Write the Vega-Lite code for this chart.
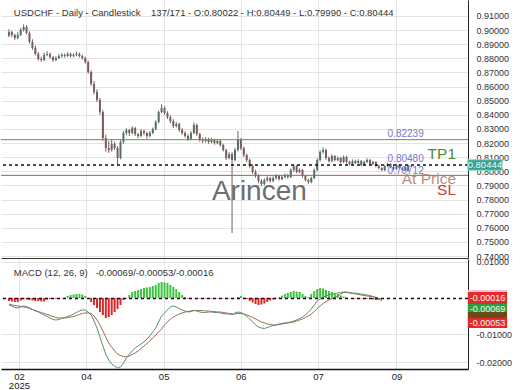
{
  "$schema": "https://vega.github.io/schema/vega-lite/v6.json",
  "padding": 0,
  "background": "white",
  "config": {
    "font": "Liberation Sans",
    "view": {"stroke": null},
    "axis": {"gridColor": "#e4e4e4", "gridWidth": 1, "labelFont": "Liberation Sans", "labelColor": "#333", "labelFontSize": 9, "ticks": false, "title": null, "labelOverlap": false, "labelFlush": false, "labelBound": false}
  },
  "datasets": {
    "px": [
      {"i":1,"o":0.8960,"h":0.9005,"l":0.8950,"c":0.8986},
      {"i":2,"o":0.8986,"h":0.8995,"l":0.8950,"c":0.8965},
      {"i":3,"o":0.8965,"h":0.8975,"l":0.8930,"c":0.8944},
      {"i":4,"o":0.8944,"h":0.8985,"l":0.8935,"c":0.8965},
      {"i":5,"o":0.8965,"h":0.9015,"l":0.8958,"c":0.9001},
      {"i":6,"o":0.9001,"h":0.9040,"l":0.8990,"c":0.9022},
      {"i":7,"o":0.9022,"h":0.9035,"l":0.8970,"c":0.8979},
      {"i":8,"o":0.8979,"h":0.8990,"l":0.8905,"c":0.8916},
      {"i":9,"o":0.8916,"h":0.8935,"l":0.8860,"c":0.8873},
      {"i":10,"o":0.8873,"h":0.8890,"l":0.8820,"c":0.8831},
      {"i":11,"o":0.8831,"h":0.8845,"l":0.8785,"c":0.8795},
      {"i":12,"o":0.8795,"h":0.8812,"l":0.8775,"c":0.8788},
      {"i":13,"o":0.8788,"h":0.8840,"l":0.8780,"c":0.8824},
      {"i":14,"o":0.8824,"h":0.8850,"l":0.8815,"c":0.8831},
      {"i":15,"o":0.8831,"h":0.8840,"l":0.8795,"c":0.8809},
      {"i":16,"o":0.8809,"h":0.8818,"l":0.8775,"c":0.8788},
      {"i":17,"o":0.8788,"h":0.8815,"l":0.8780,"c":0.8802},
      {"i":18,"o":0.8802,"h":0.8830,"l":0.8795,"c":0.8816},
      {"i":19,"o":0.8816,"h":0.8838,"l":0.8805,"c":0.8824},
      {"i":20,"o":0.8824,"h":0.8835,"l":0.8805,"c":0.8816},
      {"i":21,"o":0.8816,"h":0.8845,"l":0.8810,"c":0.8831},
      {"i":22,"o":0.8831,"h":0.8840,"l":0.8805,"c":0.8816},
      {"i":23,"o":0.8816,"h":0.8836,"l":0.8808,"c":0.8824},
      {"i":24,"o":0.8824,"h":0.8846,"l":0.8815,"c":0.8831},
      {"i":25,"o":0.8831,"h":0.8840,"l":0.8806,"c":0.8816},
      {"i":26,"o":0.8816,"h":0.8825,"l":0.8790,"c":0.8802},
      {"i":27,"o":0.8802,"h":0.8812,"l":0.8762,"c":0.8774},
      {"i":28,"o":0.8774,"h":0.8785,"l":0.8690,"c":0.8703},
      {"i":29,"o":0.8703,"h":0.8715,"l":0.8605,"c":0.8618},
      {"i":30,"o":0.8618,"h":0.8640,"l":0.8545,"c":0.8561},
      {"i":31,"o":0.8561,"h":0.8580,"l":0.8490,"c":0.8505},
      {"i":32,"o":0.8505,"h":0.8520,"l":0.8400,"c":0.8420},
      {"i":33,"o":0.8420,"h":0.8435,"l":0.8215,"c":0.8236},
      {"i":34,"o":0.8236,"h":0.8260,"l":0.8140,"c":0.8165},
      {"i":35,"o":0.8165,"h":0.8215,"l":0.8130,"c":0.8151},
      {"i":36,"o":0.8151,"h":0.8225,"l":0.8140,"c":0.8193},
      {"i":37,"o":0.8193,"h":0.8210,"l":0.8150,"c":0.8165},
      {"i":38,"o":0.8165,"h":0.8178,"l":0.8045,"c":0.8094},
      {"i":39,"o":0.8094,"h":0.8220,"l":0.8085,"c":0.8207},
      {"i":40,"o":0.8207,"h":0.8285,"l":0.8195,"c":0.8271},
      {"i":41,"o":0.8271,"h":0.8305,"l":0.8255,"c":0.8292},
      {"i":42,"o":0.8292,"h":0.8300,"l":0.8250,"c":0.8271},
      {"i":43,"o":0.8271,"h":0.8320,"l":0.8262,"c":0.8307},
      {"i":44,"o":0.8307,"h":0.8315,"l":0.8250,"c":0.8264},
      {"i":45,"o":0.8264,"h":0.8272,"l":0.8235,"c":0.8250},
      {"i":46,"o":0.8250,"h":0.8300,"l":0.8242,"c":0.8285},
      {"i":47,"o":0.8285,"h":0.8295,"l":0.8255,"c":0.8271},
      {"i":48,"o":0.8271,"h":0.8280,"l":0.8232,"c":0.8250},
      {"i":49,"o":0.8250,"h":0.8285,"l":0.8240,"c":0.8271},
      {"i":50,"o":0.8271,"h":0.8310,"l":0.8262,"c":0.8299},
      {"i":51,"o":0.8299,"h":0.8360,"l":0.8290,"c":0.8349},
      {"i":52,"o":0.8349,"h":0.8430,"l":0.8340,"c":0.8420},
      {"i":53,"o":0.8420,"h":0.8475,"l":0.8410,"c":0.8448},
      {"i":54,"o":0.8448,"h":0.8460,"l":0.8400,"c":0.8413},
      {"i":55,"o":0.8413,"h":0.8425,"l":0.8370,"c":0.8384},
      {"i":56,"o":0.8384,"h":0.8395,"l":0.8340,"c":0.8356},
      {"i":57,"o":0.8356,"h":0.8368,"l":0.8305,"c":0.8321},
      {"i":58,"o":0.8321,"h":0.8350,"l":0.8310,"c":0.8335},
      {"i":59,"o":0.8335,"h":0.8345,"l":0.8280,"c":0.8292},
      {"i":60,"o":0.8292,"h":0.8305,"l":0.8258,"c":0.8271},
      {"i":61,"o":0.8271,"h":0.8282,"l":0.8238,"c":0.8250},
      {"i":62,"o":0.8250,"h":0.8262,"l":0.8215,"c":0.8229},
      {"i":63,"o":0.8229,"h":0.8285,"l":0.8220,"c":0.8271},
      {"i":64,"o":0.8271,"h":0.8345,"l":0.8262,"c":0.8328},
      {"i":65,"o":0.8328,"h":0.8338,"l":0.8250,"c":0.8264},
      {"i":66,"o":0.8264,"h":0.8272,"l":0.8210,"c":0.8222},
      {"i":67,"o":0.8222,"h":0.8240,"l":0.8200,"c":0.8214},
      {"i":68,"o":0.8214,"h":0.8242,"l":0.8205,"c":0.8229},
      {"i":69,"o":0.8229,"h":0.8238,"l":0.8195,"c":0.8207},
      {"i":70,"o":0.8207,"h":0.8235,"l":0.8198,"c":0.8222},
      {"i":71,"o":0.8222,"h":0.8230,"l":0.8188,"c":0.8200},
      {"i":72,"o":0.8200,"h":0.8228,"l":0.8192,"c":0.8214},
      {"i":73,"o":0.8214,"h":0.8222,"l":0.8175,"c":0.8186},
      {"i":74,"o":0.8186,"h":0.8195,"l":0.8140,"c":0.8151},
      {"i":75,"o":0.8151,"h":0.8160,"l":0.8080,"c":0.8094},
      {"i":76,"o":0.8094,"h":0.8135,"l":0.8085,"c":0.8122},
      {"i":77,"o":0.8122,"h":0.8135,"l":0.7563,"c":0.8080},
      {"i":78,"o":0.8080,"h":0.8165,"l":0.8070,"c":0.8151},
      {"i":79,"o":0.8151,"h":0.8285,"l":0.8140,"c":0.8222},
      {"i":80,"o":0.8222,"h":0.8235,"l":0.8150,"c":0.8165},
      {"i":81,"o":0.8165,"h":0.8175,"l":0.8100,"c":0.8115},
      {"i":82,"o":0.8115,"h":0.8125,"l":0.8065,"c":0.8080},
      {"i":83,"o":0.8080,"h":0.8090,"l":0.8025,"c":0.8037},
      {"i":84,"o":0.8037,"h":0.8050,"l":0.7980,"c":0.7995},
      {"i":85,"o":0.7995,"h":0.8010,"l":0.7955,"c":0.7967},
      {"i":86,"o":0.7967,"h":0.7980,"l":0.7915,"c":0.7931},
      {"i":87,"o":0.7931,"h":0.7945,"l":0.7895,"c":0.7910},
      {"i":88,"o":0.7910,"h":0.7950,"l":0.7900,"c":0.7938},
      {"i":89,"o":0.7938,"h":0.7965,"l":0.7925,"c":0.7952},
      {"i":90,"o":0.7952,"h":0.7960,"l":0.7920,"c":0.7931},
      {"i":91,"o":0.7931,"h":0.7965,"l":0.7922,"c":0.7952},
      {"i":92,"o":0.7952,"h":0.7980,"l":0.7942,"c":0.7967},
      {"i":93,"o":0.7967,"h":0.7975,"l":0.7935,"c":0.7945},
      {"i":94,"o":0.7945,"h":0.7972,"l":0.7936,"c":0.7960},
      {"i":95,"o":0.7960,"h":0.7985,"l":0.7950,"c":0.7974},
      {"i":96,"o":0.7974,"h":0.7982,"l":0.7948,"c":0.7960},
      {"i":97,"o":0.7960,"h":0.8020,"l":0.7952,"c":0.8009},
      {"i":98,"o":0.8009,"h":0.8048,"l":0.7998,"c":0.8037},
      {"i":99,"o":0.8037,"h":0.8045,"l":0.7985,"c":0.7995},
      {"i":100,"o":0.7995,"h":0.8020,"l":0.7986,"c":0.8009},
      {"i":101,"o":0.8009,"h":0.8016,"l":0.7955,"c":0.7967},
      {"i":102,"o":0.7967,"h":0.7975,"l":0.7928,"c":0.7938},
      {"i":103,"o":0.7938,"h":0.7948,"l":0.7912,"c":0.7924},
      {"i":104,"o":0.7924,"h":0.7962,"l":0.7915,"c":0.7952},
      {"i":105,"o":0.7952,"h":0.8020,"l":0.7945,"c":0.8009},
      {"i":106,"o":0.8009,"h":0.8092,"l":0.8000,"c":0.8080},
      {"i":107,"o":0.8080,"h":0.8150,"l":0.8070,"c":0.8137},
      {"i":108,"o":0.8137,"h":0.8170,"l":0.8125,"c":0.8151},
      {"i":109,"o":0.8151,"h":0.8160,"l":0.8082,"c":0.8094},
      {"i":110,"o":0.8094,"h":0.8105,"l":0.8062,"c":0.8073},
      {"i":111,"o":0.8073,"h":0.8120,"l":0.8065,"c":0.8108},
      {"i":112,"o":0.8108,"h":0.8115,"l":0.8070,"c":0.8080},
      {"i":113,"o":0.8080,"h":0.8105,"l":0.8072,"c":0.8094},
      {"i":114,"o":0.8094,"h":0.8102,"l":0.8055,"c":0.8066},
      {"i":115,"o":0.8066,"h":0.8112,"l":0.8058,"c":0.8101},
      {"i":116,"o":0.8101,"h":0.8110,"l":0.8055,"c":0.8066},
      {"i":117,"o":0.8066,"h":0.8075,"l":0.8042,"c":0.8052},
      {"i":118,"o":0.8052,"h":0.8085,"l":0.8045,"c":0.8073},
      {"i":119,"o":0.8073,"h":0.8082,"l":0.8050,"c":0.8059},
      {"i":120,"o":0.8059,"h":0.8085,"l":0.8052,"c":0.8073},
      {"i":121,"o":0.8073,"h":0.8080,"l":0.8035,"c":0.8044},
      {"i":122,"o":0.8044,"h":0.8075,"l":0.8038,"c":0.8066},
      {"i":123,"o":0.8066,"h":0.8092,"l":0.8058,"c":0.8080},
      {"i":124,"o":0.8080,"h":0.8088,"l":0.8045,"c":0.8052},
      {"i":125,"o":0.8052,"h":0.8075,"l":0.8045,"c":0.8066},
      {"i":126,"o":0.8066,"h":0.8072,"l":0.8028,"c":0.8037},
      {"i":127,"o":0.8037,"h":0.8045,"l":0.8015,"c":0.8023},
      {"i":128,"o":0.8023,"h":0.8030,"l":0.8000,"c":0.8009},
      {"i":129,"o":0.8009,"h":0.8045,"l":0.8002,"c":0.8037},
      {"i":130,"o":0.8037,"h":0.8060,"l":0.8030,"c":0.8052},
      {"i":131,"o":0.8052,"h":0.8058,"l":0.8022,"c":0.8030},
      {"i":132,"o":0.8030,"h":0.8036,"l":0.8005,"c":0.8016},
      {"i":133,"o":0.8016,"h":0.8052,"l":0.8010,"c":0.8044},
      {"i":134,"o":0.8044,"h":0.8050,"l":0.8015,"c":0.8023},
      {"i":135,"o":0.8023,"h":0.8030,"l":0.7998,"c":0.8009},
      {"i":136,"o":0.8009,"h":0.8038,"l":0.8002,"c":0.8030},
      {"i":137,"o":0.80022,"h":0.80449,"l":0.79990,"c":0.80444}
    ],
    "md": [
      {"i":1,"m":-0.00194,"s":-0.00167,"h":-0.00083},
      {"i":2,"m":-0.00222,"s":-0.00194,"h":-0.00097},
      {"i":3,"m":-0.00264,"s":-0.00208,"h":-0.00111},
      {"i":4,"m":-0.00278,"s":-0.00222,"h":-0.00111},
      {"i":5,"m":-0.00250,"s":-0.00236,"h":-0.00069},
      {"i":6,"m":-0.00222,"s":-0.00250,"h":-0.00028},
      {"i":7,"m":-0.00236,"s":-0.00264,"h":-0.00042},
      {"i":8,"m":-0.00278,"s":-0.00292,"h":-0.00056},
      {"i":9,"m":-0.00319,"s":-0.00319,"h":-0.00069},
      {"i":10,"m":-0.00361,"s":-0.00347,"h":-0.00083},
      {"i":11,"m":-0.00389,"s":-0.00375,"h":-0.00083},
      {"i":12,"m":-0.00431,"s":-0.00403,"h":-0.00097},
      {"i":13,"m":-0.00472,"s":-0.00431,"h":-0.00097},
      {"i":14,"m":-0.00514,"s":-0.00458,"h":-0.00042},
      {"i":15,"m":-0.00556,"s":-0.00486,"h":-0.00028},
      {"i":16,"m":-0.00597,"s":-0.00514,"h":-0.00028},
      {"i":17,"m":-0.00611,"s":-0.00542,"h":-0.00022},
      {"i":18,"m":-0.00597,"s":-0.00556,"h":-0.00014},
      {"i":19,"m":-0.00569,"s":-0.00556,"h":-0.00008},
      {"i":20,"m":-0.00542,"s":-0.00556,"h":0.00014},
      {"i":21,"m":-0.00514,"s":-0.00542,"h":0.00056},
      {"i":22,"m":-0.00486,"s":-0.00528,"h":0.00083},
      {"i":23,"m":-0.00444,"s":-0.00514,"h":0.00097},
      {"i":24,"m":-0.00403,"s":-0.00486,"h":0.00111},
      {"i":25,"m":-0.00361,"s":-0.00458,"h":0.00111},
      {"i":26,"m":-0.00333,"s":-0.00431,"h":0.00097},
      {"i":27,"m":-0.00333,"s":-0.00417,"h":0.00056},
      {"i":28,"m":-0.00389,"s":-0.00417,"h":-0.00028},
      {"i":29,"m":-0.00472,"s":-0.00431,"h":-0.00111},
      {"i":30,"m":-0.00639,"s":-0.00500,"h":-0.00194},
      {"i":31,"m":-0.00833,"s":-0.00611,"h":-0.00278},
      {"i":32,"m":-0.01083,"s":-0.00750,"h":-0.00389},
      {"i":33,"m":-0.01333,"s":-0.00917,"h":-0.00472},
      {"i":34,"m":-0.01556,"s":-0.01083,"h":-0.00556},
      {"i":35,"m":-0.01722,"s":-0.01250,"h":-0.00528},
      {"i":36,"m":-0.01833,"s":-0.01361,"h":-0.00472},
      {"i":37,"m":-0.01889,"s":-0.01472,"h":-0.00389},
      {"i":38,"m":-0.01944,"s":-0.01556,"h":-0.00306},
      {"i":39,"m":-0.01917,"s":-0.01597,"h":-0.00194},
      {"i":40,"m":-0.01806,"s":-0.01625,"h":-0.00056},
      {"i":41,"m":-0.01667,"s":-0.01639,"h":-0.00014},
      {"i":42,"m":-0.01556,"s":-0.01611,"h":0.00083},
      {"i":43,"m":-0.01472,"s":-0.01569,"h":0.00167},
      {"i":44,"m":-0.01389,"s":-0.01528,"h":0.00194},
      {"i":45,"m":-0.01333,"s":-0.01472,"h":0.00222},
      {"i":46,"m":-0.01278,"s":-0.01403,"h":0.00250},
      {"i":47,"m":-0.01222,"s":-0.01333,"h":0.00278},
      {"i":48,"m":-0.01139,"s":-0.01264,"h":0.00292},
      {"i":49,"m":-0.01056,"s":-0.01194,"h":0.00306},
      {"i":50,"m":-0.00944,"s":-0.01111,"h":0.00333},
      {"i":51,"m":-0.00833,"s":-0.01028,"h":0.00361},
      {"i":52,"m":-0.00667,"s":-0.00944,"h":0.00417},
      {"i":53,"m":-0.00500,"s":-0.00861,"h":0.00444},
      {"i":54,"m":-0.00417,"s":-0.00750,"h":0.00431},
      {"i":55,"m":-0.00333,"s":-0.00667,"h":0.00417},
      {"i":56,"m":-0.00250,"s":-0.00583,"h":0.00361},
      {"i":57,"m":-0.00222,"s":-0.00528,"h":0.00306},
      {"i":58,"m":-0.00250,"s":-0.00486,"h":0.00250},
      {"i":59,"m":-0.00292,"s":-0.00444,"h":0.00167},
      {"i":60,"m":-0.00333,"s":-0.00417,"h":0.00083},
      {"i":61,"m":-0.00361,"s":-0.00389,"h":0.00028},
      {"i":62,"m":-0.00389,"s":-0.00375,"h":-0.00014},
      {"i":63,"m":-0.00375,"s":-0.00361,"h":-0.00008},
      {"i":64,"m":-0.00347,"s":-0.00347,"h":-0.00006},
      {"i":65,"m":-0.00361,"s":-0.00347,"h":-0.00011},
      {"i":66,"m":-0.00389,"s":-0.00347,"h":-0.00017},
      {"i":67,"m":-0.00403,"s":-0.00347,"h":-0.00008},
      {"i":68,"m":-0.00403,"s":-0.00361,"h":-0.00014},
      {"i":69,"m":-0.00389,"s":-0.00361,"h":-0.00011},
      {"i":70,"m":-0.00389,"s":-0.00375,"h":-0.00017},
      {"i":71,"m":-0.00403,"s":-0.00375,"h":-0.00008},
      {"i":72,"m":-0.00403,"s":-0.00389,"h":-0.00014},
      {"i":73,"m":-0.00417,"s":-0.00389,"h":-0.00011},
      {"i":74,"m":-0.00431,"s":-0.00403,"h":-0.00014},
      {"i":75,"m":-0.00444,"s":-0.00417,"h":-0.00011},
      {"i":76,"m":-0.00444,"s":-0.00431,"h":-0.00014},
      {"i":77,"m":-0.00458,"s":-0.00444,"h":-0.00017},
      {"i":78,"m":-0.00417,"s":-0.00444,"h":-0.00008},
      {"i":79,"m":-0.00389,"s":-0.00431,"h":0.00028},
      {"i":80,"m":-0.00403,"s":-0.00431,"h":0.00056},
      {"i":81,"m":-0.00444,"s":-0.00444,"h":0.00014},
      {"i":82,"m":-0.00514,"s":-0.00472,"h":-0.00028},
      {"i":83,"m":-0.00583,"s":-0.00500,"h":-0.00083},
      {"i":84,"m":-0.00667,"s":-0.00542,"h":-0.00125},
      {"i":85,"m":-0.00750,"s":-0.00583,"h":-0.00167},
      {"i":86,"m":-0.00806,"s":-0.00625,"h":-0.00194},
      {"i":87,"m":-0.00833,"s":-0.00667,"h":-0.00181},
      {"i":88,"m":-0.00847,"s":-0.00694,"h":-0.00153},
      {"i":89,"m":-0.00819,"s":-0.00722,"h":-0.00111},
      {"i":90,"m":-0.00792,"s":-0.00736,"h":-0.00069},
      {"i":91,"m":-0.00764,"s":-0.00750,"h":-0.00042},
      {"i":92,"m":-0.00750,"s":-0.00750,"h":-0.00017},
      {"i":93,"m":-0.00722,"s":-0.00736,"h":0.00028},
      {"i":94,"m":-0.00708,"s":-0.00722,"h":0.00069},
      {"i":95,"m":-0.00694,"s":-0.00708,"h":0.00111},
      {"i":96,"m":-0.00681,"s":-0.00694,"h":0.00139},
      {"i":97,"m":-0.00667,"s":-0.00681,"h":0.00167},
      {"i":98,"m":-0.00639,"s":-0.00667,"h":0.00194},
      {"i":99,"m":-0.00611,"s":-0.00639,"h":0.00181},
      {"i":100,"m":-0.00569,"s":-0.00611,"h":0.00167},
      {"i":101,"m":-0.00528,"s":-0.00583,"h":0.00111},
      {"i":102,"m":-0.00472,"s":-0.00542,"h":0.00056},
      {"i":103,"m":-0.00389,"s":-0.00500,"h":0.00028},
      {"i":104,"m":-0.00306,"s":-0.00444,"h":0.00111},
      {"i":105,"m":-0.00194,"s":-0.00375,"h":0.00194},
      {"i":106,"m":-0.00083,"s":-0.00292,"h":0.00250},
      {"i":107,"m":-0.00028,"s":-0.00222,"h":0.00278},
      {"i":108,"m":0.00028,"s":-0.00153,"h":0.00264},
      {"i":109,"m":0.00056,"s":-0.00097,"h":0.00222},
      {"i":110,"m":0.00083,"s":-0.00056,"h":0.00194},
      {"i":111,"m":0.00111,"s":-0.00014,"h":0.00167},
      {"i":112,"m":0.00125,"s":0.00014,"h":0.00139},
      {"i":113,"m":0.00139,"s":0.00056,"h":0.00111},
      {"i":114,"m":0.00153,"s":0.00111,"h":0.00069},
      {"i":115,"m":0.00167,"s":0.00153,"h":0.00042},
      {"i":116,"m":0.00167,"s":0.00153,"h":0.00014},
      {"i":117,"m":0.00153,"s":0.00139,"h":-0.00006},
      {"i":118,"m":0.00139,"s":0.00125,"h":-0.00014},
      {"i":119,"m":0.00139,"s":0.00111,"h":-0.00008},
      {"i":120,"m":0.00125,"s":0.00097,"h":-0.00017},
      {"i":121,"m":0.00111,"s":0.00083,"h":-0.00011},
      {"i":122,"m":0.00097,"s":0.00069,"h":-0.00014},
      {"i":123,"m":0.00083,"s":0.00056,"h":-0.00017},
      {"i":124,"m":0.00069,"s":0.00042,"h":-0.00028},
      {"i":125,"m":0.00042,"s":0.00028,"h":-0.00042},
      {"i":126,"m":0.00014,"s":0.00014,"h":-0.00050},
      {"i":127,"m":-0.00028,"s":-0.00014,"h":-0.00047},
      {"i":128,"m":-0.00069,"s":-0.00053,"h":-0.00016}
    ]
  },
  "vconcat": [
    {
      "width": 467,
      "height": 258,
      "layer": [
        {
          "data": {"name": "px"},
          "mark": {"type": "rule", "strokeWidth": 1},
          "encoding": {
            "x": {"field": "i", "type": "quantitative", "scale": {"domain": [0, 155.67], "nice": false, "zero": false},
                  "axis": {"orient": "bottom", "values": [27.3, 53.7, 80, 106.3, 133], "labels": false, "ticks": false, "domainColor": "#333", "domainWidth": 1, "grid": true}},
            "y": {"field": "l", "type": "quantitative", "scale": {"domain": [0.7386, 0.9213], "nice": false, "zero": false},
                  "axis": {"orient": "right", "values": [0.74, 0.75, 0.76, 0.77, 0.78, 0.79, 0.80, 0.81, 0.82, 0.83, 0.84, 0.85, 0.86, 0.87, 0.88, 0.89, 0.90, 0.91], "tickCount": 18, "format": ".5f", "labelPadding": 8, "labelOverlap": false, "domainColor": "#222", "grid": true, "gridColor": "#e4e4e4"}},
            "y2": {"field": "h"},
            "color": {"condition": {"test": "datum.c >= datum.o", "value": "#5a6e69"}, "value": "#7a5c5c"}
          }
        },
        {
          "data": {"name": "px"},
          "mark": {"type": "bar", "width": 2},
          "encoding": {
            "x": {"field": "i", "type": "quantitative"},
            "y": {"field": "o", "type": "quantitative"},
            "y2": {"field": "c"},
            "color": {"condition": {"test": "datum.c >= datum.o", "value": "#5a6e69"}, "value": "#7a5c5c"}
          }
        },
        {
          "data": {"values": [{}]},
          "mark": {"type": "rule", "color": "#5e9440", "strokeWidth": 1},
          "encoding": {"y": {"datum": 0.82239}}
        },
        {
          "data": {"values": [{}]},
          "mark": {"type": "rule", "color": "#a8633e", "strokeWidth": 1},
          "encoding": {"y": {"datum": 0.79712}}
        },
        {
          "data": {"values": [{}]},
          "mark": {"type": "rule", "color": "#111", "strokeWidth": 1.5, "strokeDash": [3, 3]},
          "encoding": {"y": {"datum": 0.80444}}
        },
        {
          "data": {"values": [{}]},
          "mark": {"type": "text", "text": "USDCHF - Daily - Candlestick\u00a0\u00a0\u00a0\u00a0137/171 - O:0.80022 - H:0.80449 - L:0.79990 - C:0.80444", "align": "left", "baseline": "middle", "fontSize": 9.5, "color": "#333"},
          "encoding": {"x": {"datum": 2.67}, "y": {"datum": 0.9121}}
        },
        {
          "data": {"values": [{}]},
          "mark": {"type": "text", "text": "Arincen", "align": "center", "baseline": "middle", "fontSize": 28, "color": "#555", "opacity": 0.85},
          "encoding": {"x": {"datum": 86.3}, "y": {"datum": 0.7853}}
        },
        {
          "data": {"values": [{}]},
          "mark": {"type": "text", "text": "0.82239", "align": "right", "baseline": "middle", "fontSize": 10, "color": "#7878cc"},
          "encoding": {"x": {"datum": 142.3}, "y": {"datum": 0.8264}}
        },
        {
          "data": {"values": [{}]},
          "mark": {"type": "text", "text": "0.80480", "align": "right", "baseline": "middle", "fontSize": 10, "color": "#7878cc"},
          "encoding": {"x": {"datum": 142.3}, "y": {"datum": 0.8087}}
        },
        {
          "data": {"values": [{}]},
          "mark": {"type": "text", "text": "0.79712", "align": "right", "baseline": "middle", "fontSize": 10, "color": "#7878cc"},
          "encoding": {"x": {"datum": 142.3}, "y": {"datum": 0.8004}}
        },
        {
          "data": {"values": [{}]},
          "mark": {"type": "text", "text": "TP1", "align": "right", "baseline": "middle", "fontSize": 15.5, "color": "#4f8a2c"},
          "encoding": {"x": {"datum": 153.3}, "y": {"datum": 0.8122}}
        },
        {
          "data": {"values": [{}]},
          "mark": {"type": "text", "text": "At Price", "align": "right", "baseline": "middle", "fontSize": 15.5, "color": "#b07a72", "opacity": 0.85},
          "encoding": {"x": {"datum": 153.3}, "y": {"datum": 0.7943}}
        },
        {
          "data": {"values": [{}]},
          "mark": {"type": "text", "text": "SL", "align": "right", "baseline": "middle", "fontSize": 15.5, "color": "#c83c3c"},
          "encoding": {"x": {"datum": 153.3}, "y": {"datum": 0.7867}}
        },
        {
          "data": {"values": [{}]},
          "mark": {"type": "rect", "fill": "#3a9f90", "stroke": "#7fe0d5", "strokeWidth": 1},
          "encoding": {"x": {"datum": 157.3}, "x2": {"datum": 169.0}, "y": {"datum": 0.8082}, "y2": {"datum": 0.8007}}
        },
        {
          "data": {"values": [{}]},
          "mark": {"type": "text", "text": "0.80444", "align": "center", "baseline": "middle", "fontSize": 9.5, "color": "#e6fbf7"},
          "encoding": {"x": {"datum": 163.1}, "y": {"datum": 0.80444}}
        }
      ]
    },
    {
      "width": 467,
      "height": 110,
      "layer": [
        {
          "data": {"name": "md"},
          "mark": {"type": "bar", "width": 2},
          "encoding": {
            "x": {"field": "i", "type": "quantitative", "scale": {"domain": [0, 155.67], "nice": false, "zero": false},
                  "axis": {"orient": "bottom", "values": [4.4, 27.3, 53.7, 80, 106.3, 133], "labelExpr": "datum.value < 10 ? ['02', '2025'] : datum.value < 40 ? '04' : datum.value < 60 ? '05' : datum.value < 90 ? '06' : datum.value < 120 ? '07' : '09'", "labelPadding": 2, "labelFontSize": 9.5, "labelColor": "#222", "labelLineHeight": 9, "domainColor": "#111", "domainWidth": 1.5, "grid": true}},
            "y": {"field": "h", "type": "quantitative", "scale": {"domain": [-0.01972, 0.01083], "nice": false, "zero": false},
                  "axis": {"orient": "right", "values": [0.01, -0.01, -0.0178], "labelExpr": "datum.value < -0.015 ? '-0.02000' : datum.value < 0 ? '-0.01000' : '0.01000'", "labelPadding": 8, "domainColor": "#222", "grid": true}},
            "y2": {"datum": 0},
            "color": {"condition": {"test": "datum.h >= 0", "value": "#3cc43c"}, "value": "#d42a2a"}
          }
        },
        {
          "data": {"name": "md"},
          "mark": {"type": "line", "strokeWidth": 1, "color": "#a36a4c"},
          "encoding": {"x": {"field": "i", "type": "quantitative"}, "y": {"field": "s", "type": "quantitative"}}
        },
        {
          "data": {"name": "md"},
          "mark": {"type": "line", "strokeWidth": 1, "color": "#5b8c79"},
          "encoding": {"x": {"field": "i", "type": "quantitative"}, "y": {"field": "m", "type": "quantitative"}}
        },
        {
          "data": {"values": [{}]},
          "mark": {"type": "rule", "color": "#111", "strokeWidth": 1.5, "strokeDash": [3, 3]},
          "encoding": {"y": {"datum": -0.00016}}
        },
        {
          "data": {"values": [{}]},
          "mark": {"type": "text", "text": "MACD (12, 26, 9)\u00a0\u00a0\u00a0-0.00069/-0.00053/-0.00016", "align": "left", "baseline": "middle", "fontSize": 9.5, "color": "#333"},
          "encoding": {"x": {"datum": 2.67}, "y": {"datum": 0.0070}}
        },
        {
          "data": {"values": [{}]},
          "mark": {"type": "rect", "fill": "#f6bde0"},
          "encoding": {"x": {"datum": 157.3}, "x2": {"datum": 170.7}, "y": {"datum": 0.00222}, "y2": {"datum": 0.00167}}
        },
        {
          "data": {"values": [{}]},
          "mark": {"type": "rect", "fill": "#e32b2b"},
          "encoding": {"x": {"datum": 157.3}, "x2": {"datum": 170.7}, "y": {"datum": 0.00167}, "y2": {"datum": -0.00167}}
        },
        {
          "data": {"values": [{}]},
          "mark": {"type": "rect", "fill": "#2d9e3d"},
          "encoding": {"x": {"datum": 157.3}, "x2": {"datum": 170.7}, "y": {"datum": -0.00167}, "y2": {"datum": -0.00389}}
        },
        {
          "data": {"values": [{}]},
          "mark": {"type": "rect", "fill": "#6b4a1c"},
          "encoding": {"x": {"datum": 157.3}, "x2": {"datum": 170.7}, "y": {"datum": -0.00389}, "y2": {"datum": -0.00556}}
        },
        {
          "data": {"values": [{}]},
          "mark": {"type": "rect", "fill": "#e32b2b"},
          "encoding": {"x": {"datum": 157.3}, "x2": {"datum": 170.7}, "y": {"datum": -0.00556}, "y2": {"datum": -0.00833}}
        },
        {
          "data": {"values": [{}]},
          "mark": {"type": "text", "text": "-0.00016", "align": "center", "baseline": "middle", "fontSize": 9, "color": "#f5f5f5"},
          "encoding": {"x": {"datum": 164}, "y": {"datum": -0.00005}}
        },
        {
          "data": {"values": [{}]},
          "mark": {"type": "text", "text": "-0.00069", "align": "center", "baseline": "middle", "fontSize": 9, "color": "#f5f5f5"},
          "encoding": {"x": {"datum": 164}, "y": {"datum": -0.00292}}
        },
        {
          "data": {"values": [{}]},
          "mark": {"type": "text", "text": "-0.00053", "align": "center", "baseline": "middle", "fontSize": 9, "color": "#f5f5f5"},
          "encoding": {"x": {"datum": 164}, "y": {"datum": -0.00686}}
        }
      ]
    }
  ],
  "spacing": 1,
  "bounds": "flush"
}
